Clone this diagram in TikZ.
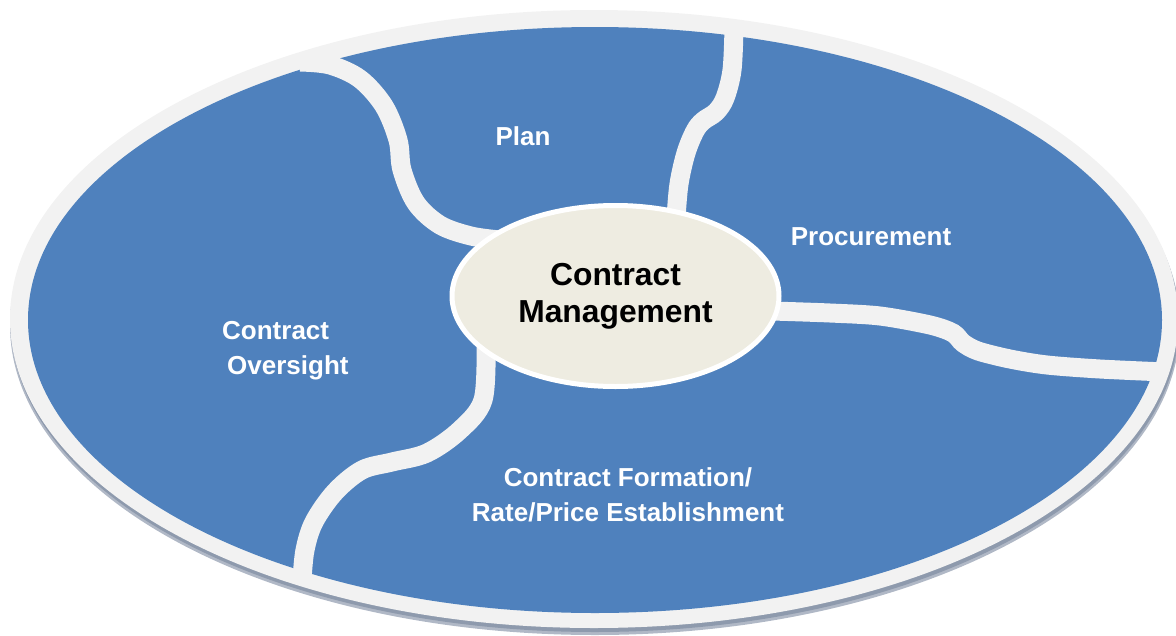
\documentclass[tikz,border=0pt]{standalone}
\usepackage{fontspec}
\setmainfont{Liberation Sans}
\usetikzlibrary{shapes.geometric}
\definecolor{segblue}{HTML}{4F81BD}
\definecolor{rimgray}{HTML}{F2F2F2}
\definecolor{hubfill}{HTML}{EEECE1}
\definecolor{shadowc}{HTML}{8E9AAD}
\begin{document}
\begin{tikzpicture}[x=1pt,y=-1pt,
  divider/.style={draw=rimgray,line width=19pt,line cap=butt},
  seglabel/.style={text=white,font=\bfseries\fontsize{26pt}{35pt}\selectfont,inner sep=0pt},
  hubnode/.style={ellipse,draw=white,line width=5pt,fill=hubfill,
    minimum width=327pt,minimum height=181pt,inner sep=0pt,align=center,
    text=black,font=\bfseries\fontsize{31.8pt}{37pt}\selectfont}]
\useasboundingbox (0,0) rectangle (1176,635);
% disk with shadow and rim
\fill[shadowc!70] (595,325) ellipse [x radius=585, y radius=310];
\fill[shadowc] (595,323) ellipse [x radius=584, y radius=309];
\fill[rimgray] (594,319) ellipse [x radius=584, y radius=309];
\fill[segblue] (595,320) ellipse [x radius=567, y radius=293];
% dividers
\draw[divider] plot[smooth, tension=0.55] coordinates {(300,62) (330,65) (360,79) (384,106) (398,140) (402,170) (416,203) (440,225) (471,236) (500,240)};
\draw[divider] plot[smooth, tension=0.55] coordinates {(734,28) (732,70) (725,98) (716,112) (703,121) (695,131) (686,153) (679,184) (676,218)};
\draw[divider] plot[smooth, tension=0.5] coordinates {(772,311) (830,313) (880,316) (930,325) (953,333) (963,343) (978,351) (1010,359) (1047,365) (1100,369) (1165,372)};
\draw[divider] plot[smooth, tension=0.55] coordinates {(486,345) (483,400) (460,430) (427,453) (392,462) (362,470) (335,492) (314,522) (305,550) (302,580)};
% hub
\node[hubnode] (hub) at (615.5,296) {Contract\\Management};
% labels
\node[seglabel, anchor=base] (plan) at (523,145) {Plan};
\node[seglabel, anchor=base] (proc) at (871,245) {Procurement};
\node[seglabel, anchor=base west, align=left] (over) at (222,374) {Contract\\\hspace*{5pt}Oversight};
\node[seglabel, anchor=base, align=center] (form) at (628,521) {Contract Formation/\\Rate/Price Establishment};
\end{tikzpicture}
\end{document}
